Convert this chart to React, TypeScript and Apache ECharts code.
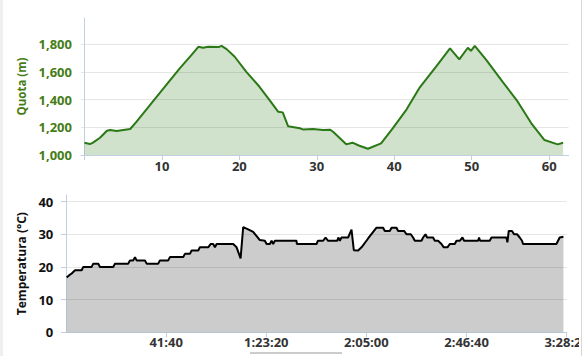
import React, { useEffect, useRef } from "react";
import * as echarts from "echarts";

// Elevation profile (distance km, altitude m)
const distKm = [0, 0.7, 1.1, 2, 2.9, 3.3, 4.15, 5.9, 6.7, 8.45, 10.2, 12.3, 13.8, 14.7, 15.3, 16, 17.3, 17.7, 18.35, 19.4, 20.9, 22.6, 23.9, 25, 25.6, 26.3, 27.8, 28.2, 29.5, 30.8, 31.7, 32.1, 33.8, 34.6, 35.5, 36.6, 38.3, 39.8, 41.6, 43.3, 45.4, 47.2, 48.4, 49.5, 49.9, 50.4, 51.9, 54, 55.8, 57.7, 59.4, 61.1, 61.8];
const elevM = [1088, 1079, 1089, 1125, 1175, 1180, 1173, 1188, 1240, 1361, 1481, 1626, 1722, 1782, 1775, 1782, 1780, 1789, 1765, 1710, 1601, 1493, 1397, 1313, 1308, 1207, 1193, 1185, 1188, 1180, 1183, 1168, 1077, 1089, 1067, 1045, 1084, 1193, 1330, 1489, 1638, 1770, 1691, 1775, 1753, 1789, 1686, 1529, 1397, 1229, 1108, 1077, 1089];

// Temperature (elapsed seconds, °C)
const timeS = [17, 75, 142, 225, 392, 432, 641, 681, 806, 848, 1180, 1223, 1554, 1597, 1679, 1722, 1764, 1971, 2013, 2303, 2345, 2552, 2595, 2927, 2969, 3094, 3136, 3301, 3343, 3550, 3610, 3675, 3718, 3760, 4174, 4259, 4359, 4424, 4548, 4673, 4840, 4965, 5008, 5090, 5132, 5172, 5215, 5756, 5763, 6255, 6287, 6420, 6480, 6544, 6769, 6804, 6836, 6879, 7043, 7128, 7186, 7293, 7378, 7542, 7752, 7917, 7959, 8084, 8127, 8251, 8291, 8441, 8501, 8608, 8665, 8708, 8875, 8915, 8975, 9015, 9164, 9207, 9289, 9374, 9431, 9523, 9581, 9706, 9748, 9830, 9898, 9938, 10287, 10312, 10337, 10579, 10621, 10995, 11020, 11053, 11135, 11185, 11260, 11327, 11385, 11410, 12243, 12325, 12418];
const tempC = [16.8, 17.4, 18, 19, 19, 20, 20, 21, 21, 20, 20, 21, 21, 22, 22, 23, 22, 22, 21, 21, 22, 22, 23, 23, 24, 24, 25, 25, 26, 26, 27, 27, 26, 27, 27, 26, 22.6, 32.2, 31.5, 30.7, 28.2, 28, 27, 27, 28, 27, 28, 28, 27, 27, 28, 28, 29, 28, 28, 29, 28, 29, 29, 31.4, 25.1, 25, 26, 28.7, 32, 32, 31, 31, 32, 32, 31, 31, 30, 30, 29, 28, 28, 29, 30, 29, 29, 28, 28, 27, 26, 26, 27, 27, 28, 28, 29, 28, 28, 29, 28, 28, 29, 29, 27.5, 31, 31, 30, 30, 29, 28, 27, 27, 29, 29.2];

// Tick values
const distTicks = [0, 10, 20, 30, 40, 50, 60];
const distLabels = [10, 20, 30, 40, 50, 60];
const elevTicks = [1000, 1200, 1400, 1600, 1800];
const tempTicks = [0, 10, 20, 30, 40];
const timeTicks = [2500, 5000, 7500, 10000, 12500];

function fmtTime(s: number): string {
  const h = Math.floor(s / 3600);
  const m = Math.floor((s % 3600) / 60);
  const sec = Math.round(s % 60);
  const mm = h ? String(m).padStart(2, "0") : String(m);
  return (h ? h + ":" : "") + mm + ":" + String(sec).padStart(2, "0");
}

const AXIS_COLOR = "#C0D0E0";
const GRID_COLOR = "#e6e6e6";
const GREEN_TEXT = "#457d16";
const GREEN_LINE = "#2b7816";
const LABEL_SIZE = 13;

export default function App() {
  const ref = useRef<HTMLDivElement>(null);
  useEffect(() => {
    if (!ref.current) return;
    const chart = echarts.init(ref.current, null, { renderer: "svg" });
    const font = "Open Sans";
    chart.setOption({
      animation: false,
      textStyle: { fontFamily: font },
      grid: [
        { left: 81, top: 18, width: 487.5, height: 137, containLabel: false, outerBoundsMode: "none" },
        { left: 62.3, top: 195, width: 504.4, height: 137.3, containLabel: false, outerBoundsMode: "none" },
      ],
      xAxis: [
        {
          type: "value",
          gridIndex: 0,
          min: -0.45,
          max: 62.5,
          axisLine: { show: true, lineStyle: { color: AXIS_COLOR, width: 1 } },
          axisTick: { show: true, length: 5, lineStyle: { color: AXIS_COLOR }, customValues: distTicks },
          axisLabel: {
            customValues: distLabels,
            color: "#333",
            fontWeight: "bold",
            fontSize: LABEL_SIZE,
            fontFamily: font,
            margin: 4,
          },
          splitLine: { show: false },
        },
        {
          type: "value",
          gridIndex: 1,
          min: -92,
          max: 12500,
          axisLine: { show: true, lineStyle: { color: AXIS_COLOR, width: 1 } },
          axisTick: { show: true, length: 5, lineStyle: { color: AXIS_COLOR }, customValues: timeTicks },
          axisLabel: {
            customValues: timeTicks,
            color: "#333",
            fontWeight: "bold",
            fontSize: LABEL_SIZE,
            fontFamily: font,
            margin: 3,
            alignMaxLabel: "center",
            hideOverlap: false,
            formatter: (v: number) => fmtTime(v),
          },
          splitLine: { show: false },
        },
      ],
      yAxis: [
        {
          type: "value",
          gridIndex: 0,
          min: 1000,
          max: 1990,
          interval: 200,
          name: "Quota (m)",
          nameLocation: "middle",
          nameGap: 48,
          nameTextStyle: { color: GREEN_TEXT, fontWeight: "bold", fontSize: 11.5, fontFamily: font },
          axisLine: { show: true, lineStyle: { color: AXIS_COLOR, width: 1 } },
          axisTick: { show: false, customValues: elevTicks },
          axisLabel: {
            customValues: elevTicks,
            color: GREEN_TEXT,
            fontWeight: "bold",
            fontSize: LABEL_SIZE,
            fontFamily: font,
            margin: 9,
            formatter: (v: number) => (v % 200 === 0 ? v.toLocaleString("en-US") : ""),
          },
          splitLine: {
            show: true,
            lineStyle: { color: [GRID_COLOR, GRID_COLOR, GRID_COLOR, GRID_COLOR, GRID_COLOR, "rgba(0,0,0,0)"], width: 1 },
          },
        },
        {
          type: "value",
          gridIndex: 1,
          min: 0,
          max: 42,
          interval: 10,
          name: "Temperatura (°C)",
          nameLocation: "middle",
          nameGap: 29,
          nameTextStyle: { color: "#111", fontWeight: "bold", fontSize: 12, fontFamily: font },
          axisLine: { show: true, lineStyle: { color: AXIS_COLOR, width: 1 } },
          axisTick: { show: true, length: 5, lineStyle: { color: AXIS_COLOR }, customValues: tempTicks },
          axisLabel: {
            customValues: tempTicks,
            color: "#111",
            fontWeight: "bold",
            fontSize: LABEL_SIZE,
            fontFamily: font,
            margin: 9,
            formatter: (v: number) => (v % 10 === 0 ? String(v) : ""),
          },
          splitLine: {
            show: true,
            lineStyle: { color: [GRID_COLOR, GRID_COLOR, GRID_COLOR, GRID_COLOR, GRID_COLOR, "rgba(0,0,0,0)"], width: 1 },
          },
        },
      ],
      series: [
        {
          type: "line",
          xAxisIndex: 0,
          yAxisIndex: 0,
          data: distKm.map((d, i) => [d, elevM[i]]),
          showSymbol: false,
          symbol: "none",
          lineStyle: { color: GREEN_LINE, width: 2 },
          areaStyle: { color: "rgba(43,120,22,0.22)", opacity: 1, origin: "start" },
          z: 3,
        },
        {
          type: "line",
          xAxisIndex: 1,
          yAxisIndex: 1,
          data: timeS.map((t, i) => [t, tempC[i]]),
          showSymbol: false,
          symbol: "none",
          lineStyle: { color: "#000", width: 2 },
          areaStyle: { color: "rgba(0,0,0,0.2)", opacity: 1, origin: "start" },
          z: 3,
        },
      ],
    });
    return () => chart.dispose();
  }, []);

  return (
    <div style={{ position: "fixed", left: 0, top: 0, width: 586, height: 356, background: "#fff", overflow: "hidden" }}>
      <div ref={ref} style={{ position: "absolute", left: 0, top: 0, width: 579, height: 356, overflow: "hidden" }} />
      <div style={{ position: "absolute", left: 0, top: 0, width: 3, height: 356, background: "#efefef" }} />
      <div style={{ position: "absolute", left: 581, top: 0, width: 1, height: 356, background: "#d8d8d8" }} />
      <div style={{ position: "absolute", left: 250, top: 352, width: 92, height: 2, background: "#cccccc" }} />
    </div>
  );
}
